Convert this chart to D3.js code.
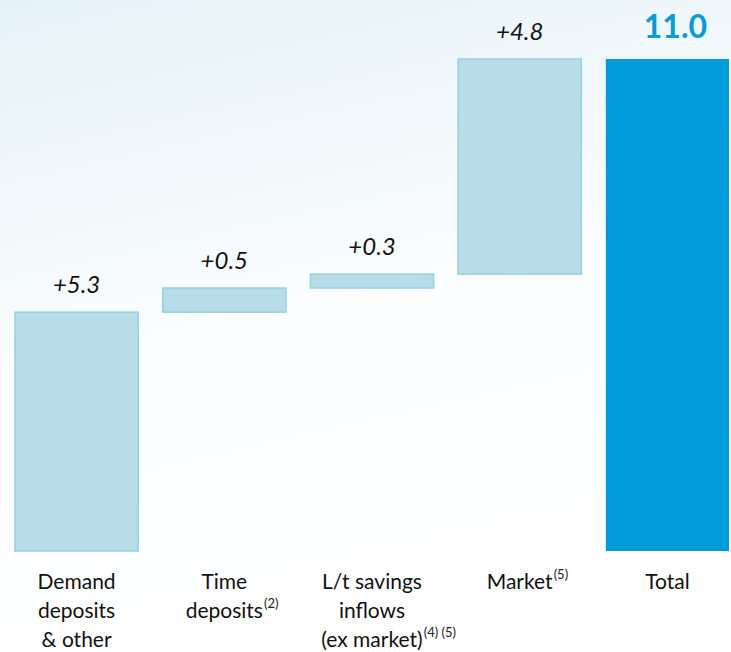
<!DOCTYPE html>
<html>
<head>
<meta charset="utf-8">
<script src="https://cdn.jsdelivr.net/npm/d3@7"></script>
<style>
  body { margin: 0; }
  svg { display: block; font-family: Lato, "Open Sans", sans-serif; }
</style>
</head>
<body>
<div id="chart"></div>
<script>
// Waterfall data (bar heights, labels are rounded)
const categories = ["demand", "time", "ltsavings", "market", "total"]
const deltas = [5.34, 0.54, 0.31, 4.81, 11.0]
const isTotal = [false, false, false, false, true]
const valueLabels = ["+5.3", "+0.5", "+0.3", "+4.8", "11.0"]
// each category label: lines, superscript appended to a given line
const labelLines = [
  ["Demand", "deposits", "& other"],
  ["Time", "deposits"],
  ["L/t savings", "inflows", "(ex market)"],
  ["Market"],
  ["Total"]
]
const labelSups = [null, { line: 1, text: "(2)" }, { line: 2, text: "(4) (5)" }, { line: 0, text: "(5)" }, null]

const svgWidth = 731
const svgHeight = 652

let svg = d3.select("#chart")
  .append("svg")
  .attr("width", svgWidth)
  .attr("height", svgHeight)

// background gradient
let grad = svg.append("defs").append("linearGradient")
  .attr("id", "bg")
  .attr("x1", 0).attr("y1", 0).attr("x2", 0.25).attr("y2", 1)
grad.append("stop").attr("offset", "0%").attr("stop-color", "#e5f2f7")
grad.append("stop").attr("offset", "55%").attr("stop-color", "#fbfdfe")
grad.append("stop").attr("offset", "100%").attr("stop-color", "#ffffff")

svg.append("rect")
  .attr("width", svgWidth)
  .attr("height", svgHeight)
  .attr("fill", "url(#bg)")

// build running totals
let running = 0
let bars = categories.map((c, i) => {
  let d = { key: c, i: i, total: isTotal[i] }
  if (isTotal[i]) {
    d.y0 = 0
    d.y1 = deltas[i]
  } else {
    d.y0 = running
    d.y1 = running + deltas[i]
    running = d.y1
  }
  return d
})

let x = d3.scaleBand()
  .domain(categories)
  .range([15, 729])
  .paddingInner(0.166)
  .paddingOuter(0)

let y = d3.scaleLinear()
  .domain([0, 11.0])
  .range([551, 59])

svg.selectAll("rect.bar")
  .data(bars)
  .enter()
  .append("rect")
  .attr("class", "bar")
  .attr("x", d => x(d.key))
  .attr("y", d => y(d.y1))
  .attr("width", x.bandwidth())
  .attr("height", d => y(d.y0) - y(d.y1))
  .attr("fill", d => d.total ? "#009bd8" : "#b8dde8")
  .attr("stroke", d => d.total ? "#009bd8" : "#97d0e1")
  .attr("stroke-width", d => d.total ? 0 : 1.5)

// value labels
svg.selectAll("text.value")
  .data(bars)
  .enter()
  .append("text")
  .attr("class", "value")
  .attr("x", d => x(d.key) + x.bandwidth() / 2 + (d.total ? 8 : 0))
  .attr("y", d => y(d.y1) - (d.total ? 21 : 19))
  .attr("text-anchor", "middle")
  .style("font-size", d => d.total ? "32px" : "24px")
  .style("font-style", d => d.total ? "normal" : "italic")
  .style("font-weight", d => d.total ? "bold" : "normal")
  .attr("fill", d => d.total ? "#0a9ad6" : "#111")
  .text((d, i) => valueLabels[i])

// category labels
categories.forEach((c, i) => {
  let cx = x(c) + x.bandwidth() / 2
  labelLines[i].forEach((line, j) => {
    let ly = 589 + j * 29
    let t = svg.append("text")
      .attr("x", cx)
      .attr("y", ly)
      .attr("text-anchor", "middle")
      .style("font-size", "21px")
      .attr("fill", "#111")
      .text(line)
    let sup = labelSups[i]
    if (sup && sup.line === j) {
      let w = t.node().getComputedTextLength()
      svg.append("text")
        .attr("x", cx + w / 2 + 1)
        .attr("y", ly - 10)
        .style("font-size", "13px")
        .attr("fill", "#222")
        .text(sup.text)
    }
  })
})
</script>
</body>
</html>
